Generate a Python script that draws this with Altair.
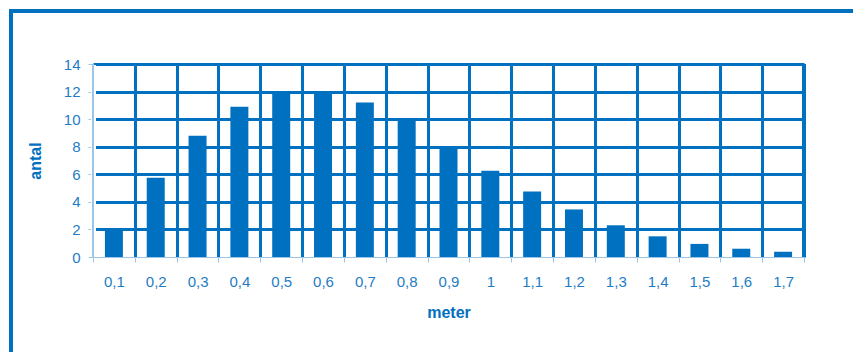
import altair as alt
import pandas as pd

# Length classes (meter) and counts (antal)
meter = ["0,1", "0,2", "0,3", "0,4", "0,5", "0,6", "0,7", "0,8", "0,9", "1",
         "1,1", "1,2", "1,3", "1,4", "1,5", "1,6", "1,7"]
antal = [2.05, 5.75, 8.8, 10.9, 12.05, 12.05, 11.2, 9.95, 8.05, 6.25,
         4.75, 3.45, 2.3, 1.5, 0.95, 0.6, 0.38]

BLUE = "#0070C0"
TEXT = "#1F7CC4"
LIGHT = "#9CC6E8"

W, H = 711, 193

df = pd.DataFrame({"meter": meter, "antal": antal})

x_enc = alt.X(
    "meter:N",
    sort=meter,
    scale=alt.Scale(paddingInner=0, paddingOuter=0),
    axis=alt.Axis(
        title="meter",
        labelAngle=0,
        tickBand="extent",
        grid=True,
        gridColor=BLUE,
        gridWidth=3,
        domainColor=LIGHT,
        tickColor=LIGHT,
        tickSize=5,
        labelPadding=12,
        labelColor=TEXT,
        labelFont="Liberation Sans",
        labelFontSize=15,
        titleColor=BLUE,
        titleFont="Liberation Sans",
        titleFontSize=16,
        titleFontWeight="bold",
        titlePadding=15,
    ),
)

y_enc = alt.Y(
    "antal:Q",
    scale=alt.Scale(domain=[0, 14], nice=False),
    axis=alt.Axis(
        title="antal",
        values=[0, 2, 4, 6, 8, 10, 12, 14],
        grid=True,
        gridColor={"condition": {"test": "datum.value === 0", "value": "transparent"}, "value": BLUE},
        gridWidth=3,
        domainColor=LIGHT,
        tickColor=LIGHT,
        tickSize=5,
        labelPadding=8,
        labelColor=TEXT,
        labelFont="Liberation Sans",
        labelFontSize=15,
        titleColor=BLUE,
        titleFont="Liberation Sans",
        titleFontSize=16,
        titleFontWeight="bold",
        titlePadding=20,
    ),
)

bars = alt.Chart(df).mark_bar(
    color=BLUE, width={"band": 0.43}
).encode(x=x_enc, y=y_enc)

# right edge of the plot frame
right_edge = alt.Chart(df).mark_rule(color=BLUE, strokeWidth=3).encode(
    x=alt.value(W), y=alt.value(0), y2=alt.value(H)
)

# thin left axis line drawn over the first band boundary
left_bg = alt.Chart(df).mark_rule(color="white", strokeWidth=4).encode(
    x=alt.value(0.5), y=alt.value(1.5), y2=alt.value(H)
)
left_edge = alt.Chart(df).mark_rule(color=LIGHT, strokeWidth=1).encode(
    x=alt.value(0), y=alt.value(0), y2=alt.value(H)
)

# outer border around the whole figure
frame = alt.Chart(df).mark_rect(
    fill=None, stroke=BLUE, strokeWidth=4, clip=False
).encode(
    x=alt.value(-82), y=alt.value(-53), x2=alt.value(W + 80), y2=alt.value(H + 120)
)

chart = (
    alt.layer(bars, right_edge, left_bg, left_edge, frame)
    .properties(width=W, height=H, background="white", padding={"left": 93, "top": 64, "right": 49, "bottom": 95})
    .configure(autosize=alt.AutoSizeParams(type="none"))
    .configure_view(stroke=None)
)

chart.save("out.html", embed_options={"renderer": "svg", "actions": False})
